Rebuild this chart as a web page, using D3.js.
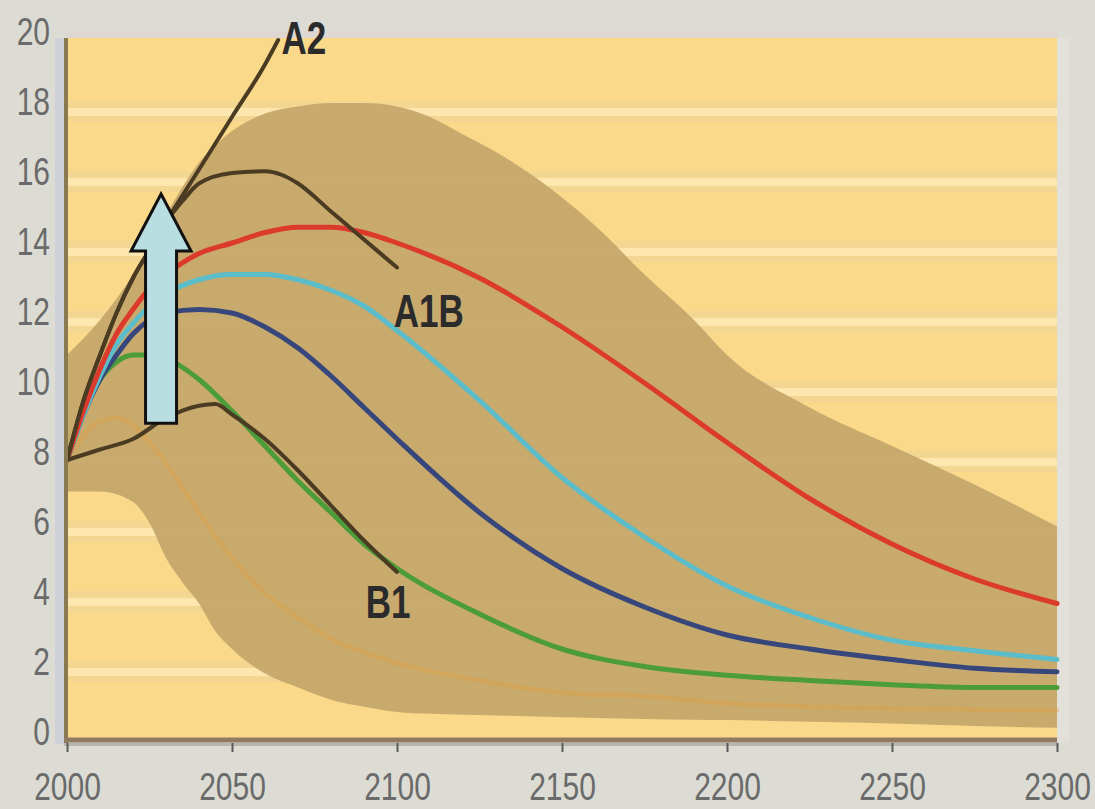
<!DOCTYPE html>
<html>
<head>
<meta charset="utf-8">
<script src="https://cdn.jsdelivr.net/npm/d3@7"></script>
<style>
  html, body { margin: 0; padding: 0; background: #dcdcd4; }
  svg { display: block; }
</style>
</head>
<body>
<svg id="chart" width="1095" height="809"></svg>
<script>
// ---- data -------------------------------------------------------------
const xTicks = [2000, 2050, 2100, 2150, 2200, 2250, 2300];
const yTicks = [0, 2, 4, 6, 8, 10, 12, 14, 16, 18, 20];

// stabilisation profiles (shared year grid)
const years = [2000, 2005, 2010, 2015, 2020, 2025, 2030, 2040, 2050, 2060, 2070, 2080, 2090, 2100,
               2125, 2150, 2175, 2200, 2225, 2250, 2275, 2300];
const s450  = [8.0, 8.7, 9.1, 9.2, 9.0, 8.5, 7.9, 6.5, 5.2, 4.2, 3.5, 2.9, 2.5, 2.2, 1.7, 1.35, 1.25, 1.05, 0.95, 0.9, 0.87, 0.85];
const s550  = [8.0, 9.4, 10.3, 10.8, 11.0, 11.0, 10.9, 10.3, 9.4, 8.4, 7.4, 6.5, 5.6, 4.9, 3.6, 2.6, 2.1, 1.85, 1.7, 1.58, 1.5, 1.5];
const s650  = [8.0, 9.3, 10.3, 11.0, 11.6, 12.0, 12.2, 12.3, 12.2, 11.8, 11.2, 10.4, 9.5, 8.6, 6.5, 4.9, 3.8, 3.0, 2.6, 2.3, 2.05, 1.95];
const s750  = [8.0, 9.3, 10.4, 11.3, 11.9, 12.4, 12.75, 13.15, 13.3, 13.3, 13.15, 12.85, 12.4, 11.7, 9.7, 7.5, 5.8, 4.4, 3.5, 2.85, 2.55, 2.3];
const s1000 = [8.0, 9.4, 10.6, 11.6, 12.3, 12.9, 13.3, 13.9, 14.2, 14.5, 14.65, 14.65, 14.5, 14.2, 13.2, 11.8, 10.2, 8.5, 6.9, 5.6, 4.6, 3.9];

// SRES scenarios
const a2Years  = [2000, 2005, 2010, 2015, 2020, 2025, 2030, 2040, 2050, 2060, 2064];
const a2Vals   = [8.0, 9.7, 11.0, 12.2, 13.2, 14.0, 14.8, 16.3, 17.8, 19.3, 20.0];
const a1bYears = [2000, 2005, 2010, 2015, 2020, 2025, 2030, 2035, 2040, 2050, 2060, 2065, 2070, 2080, 2090, 2100];
const a1bVals  = [8.0, 9.7, 11.0, 12.2, 13.2, 14.0, 14.8, 15.4, 15.9, 16.2, 16.25, 16.15, 15.9, 15.1, 14.3, 13.5];
const b1Years  = [2000, 2010, 2020, 2030, 2040, 2045, 2050, 2060, 2070, 2080, 2090, 2100];
const b1Vals   = [8.0, 8.3, 8.6, 9.2, 9.55, 9.6, 9.3, 8.6, 7.7, 6.7, 5.7, 4.8];

// uncertainty range
const bandYears = [2000, 2010, 2020, 2025, 2030, 2035, 2040, 2045, 2050, 2060, 2070, 2080, 2090, 2100, 2110,
                   2120, 2130, 2140, 2150, 2160, 2175, 2190, 2200, 2225, 2250, 2275, 2300];
const bandHigh  = [11.0, 12.0, 13.3, 14.1, 15.0, 15.8, 16.5, 17.0, 17.4, 17.9, 18.1, 18.2, 18.2, 18.1, 17.8,
                   17.3, 16.8, 16.2, 15.5, 14.7, 13.3, 12.0, 11.0, 9.5, 8.4, 7.3, 6.1];
const bandLow   = [7.1, 7.1, 6.8, 6.2, 5.2, 4.5, 3.9, 3.1, 2.6, 1.9, 1.5, 1.15, 0.95, 0.8, 0.75,
                   0.72, 0.7, 0.68, 0.65, 0.63, 0.6, 0.58, 0.57, 0.52, 0.47, 0.4, 0.35];

// annotations
const labelNames = ["A2", "A1B", "B1"];
const labelYears = [2065, 2099, 2090.5];
const labelVals  = [19.6, 11.8, 3.5];
const arrowYear = 2028.5, arrowFrom = 9.05, arrowTo = 15.6;

// ---- layout -----------------------------------------------------------
const svg = d3.select("#chart");
const x = d3.scaleLinear().domain([2000, 2300]).range([67, 1057]);
const y = d3.scaleLinear().domain([0, 20]).range([740, 40]);

// background frame
svg.append("rect").attr("width", 1095).attr("height", 809).attr("fill", "#dcdcd4");
svg.append("rect").attr("x", x(2000)).attr("y", y(20) - 9).attr("width", x(2300) - x(2000)).attr("height", 9)
  .attr("fill", "#ded6d1");
svg.append("rect").attr("x", x(2300)).attr("y", y(20) - 2).attr("width", 12).attr("height", y(0) - y(20) + 4)
  .attr("fill", "#e3e0da");
svg.append("rect").attr("x", x(2000) - 12).attr("y", y(20) - 2).attr("width", 9).attr("height", y(0) - y(20) + 6)
  .attr("fill", "#d0d0d8");

// plot area with banded grid
const plot = svg.append("g");
plot.append("rect").attr("x", x(2000)).attr("y", y(20) - 2).attr("width", x(2300) - x(2000))
  .attr("height", y(0) - y(20) + 2).attr("fill", "#fbd98a");
const grid = yTicks.filter(v => v > 0 && v < 20);
plot.selectAll("rect.gedge").data(grid).join("rect").attr("class", "gedge")
  .attr("x", x(2000)).attr("width", x(2300) - x(2000))
  .attr("y", d => y(d) - 9).attr("height", 21).attr("fill", "#f2d692");
plot.selectAll("rect.gline").data(grid).join("rect").attr("class", "gline")
  .attr("x", x(2000)).attr("width", x(2300) - x(2000))
  .attr("y", d => y(d) - 2).attr("height", 8).attr("fill", "#fde7ae");

// uncertainty band
const band = bandYears.map((yr, i) => ({ yr, lo: bandLow[i], hi: bandHigh[i] }));
plot.append("path").datum(band)
  .attr("d", d3.area().x(d => x(d.yr)).y0(d => y(d.lo)).y1(d => y(d.hi)).curve(d3.curveMonotoneX))
  .attr("fill", "#c6a86c").attr("opacity", 0.95);

// lines
const line = d3.line().x(d => x(d[0])).y(d => y(d[1])).curve(d3.curveMonotoneX);
const zip = (xs, vs) => xs.map((v, i) => [v, vs[i]]);

const profiles = [
  { vals: s450,  color: "#e3a036", w: 5, op: 0.3 },
  { vals: s550,  color: "#4c9c3a", w: 5, op: 1 },
  { vals: s650,  color: "#37477c", w: 5, op: 1 },
  { vals: s750,  color: "#5bbcca", w: 5, op: 1 },
  { vals: s1000, color: "#dc3a2c", w: 5, op: 1 }
];
profiles.forEach(p => {
  plot.append("path").datum(zip(years, p.vals)).attr("d", line)
    .attr("fill", "none").attr("stroke", p.color).attr("stroke-width", p.w)
    .attr("stroke-opacity", p.op).attr("stroke-linecap", "round");
});

[[a2Years, a2Vals], [a1bYears, a1bVals], [b1Years, b1Vals]].forEach(([ys, vs]) => {
  plot.append("path").datum(zip(ys, vs)).attr("d", line)
    .attr("fill", "none").attr("stroke", "#4a3b22").attr("stroke-width", 4)
    .attr("stroke-linecap", "round");
});

// axes
svg.append("line").attr("x1", x(2000) - 1).attr("x2", x(2000) - 1).attr("y1", y(20) - 2).attr("y2", y(0) + 3)
  .attr("stroke", "#8a7a52").attr("stroke-width", 4);
svg.append("line").attr("x1", x(2000) - 3).attr("x2", x(2300)).attr("y1", y(0)).attr("y2", y(0))
  .attr("stroke", "#8f7a62").attr("stroke-width", 5);
svg.append("line").attr("x1", x(2000) - 3).attr("x2", x(2300)).attr("y1", y(0) + 4.5).attr("y2", y(0) + 4.5)
  .attr("stroke", "#b8b5ae").attr("stroke-width", 3);

const xAxis = svg.append("g").attr("transform", `translate(0,${y(0) + 3})`)
  .call(d3.axisBottom(x).tickValues(xTicks).tickSize(9).tickFormat(d3.format("d")));
xAxis.select(".domain").remove();
xAxis.selectAll(".tick line").attr("stroke", "#5a5a5a").attr("stroke-width", 2);
xAxis.selectAll(".tick text")
  .attr("y", null).attr("dy", null)
  .attr("transform", "translate(0,57) scale(1,1.3)")
  .attr("font-family", "Liberation Sans, Arial, sans-serif").attr("font-size", 30)
  .attr("fill", "#6a6a6a");

const yAxis = svg.append("g").attr("transform", `translate(${x(2000)},0)`)
  .call(d3.axisLeft(y).tickValues(yTicks).tickSize(0).tickFormat(d3.format("d")));
yAxis.select(".domain").remove();
yAxis.selectAll(".tick text")
  .attr("x", null).attr("dy", null)
  .attr("transform", "translate(-17,4) scale(1,1.3)")
  .attr("text-anchor", "end")
  .attr("font-family", "Liberation Sans, Arial, sans-serif").attr("font-size", 30)
  .attr("fill", "#6a6a6a");

// upward arrow
const ax = x(arrowYear), yb = y(arrowFrom), yt = y(arrowTo);
const shaftHalf = 15.5, headHalf = 30, headLen = 57;
const arrowPts = [
  [ax - shaftHalf, yb], [ax - shaftHalf, yt + headLen], [ax - headHalf, yt + headLen],
  [ax, yt], [ax + headHalf, yt + headLen], [ax + shaftHalf, yt + headLen], [ax + shaftHalf, yb]
];
svg.append("path").attr("d", d3.line()(arrowPts) + "Z")
  .attr("fill", "#b9dee2").attr("stroke", "#111").attr("stroke-width", 3).attr("stroke-linejoin", "miter");

// scenario labels
labelNames.forEach((name, i) => {
  svg.append("text")
    .attr("transform", `translate(${x(labelYears[i])},${y(labelVals[i])}) scale(1,1.3)`)
    .attr("font-family", "Liberation Sans, Arial, sans-serif").attr("font-weight", "bold")
    .attr("font-size", 35).attr("fill", "#2b2b2b")
    .text(name);
});
</script>
</body>
</html>
